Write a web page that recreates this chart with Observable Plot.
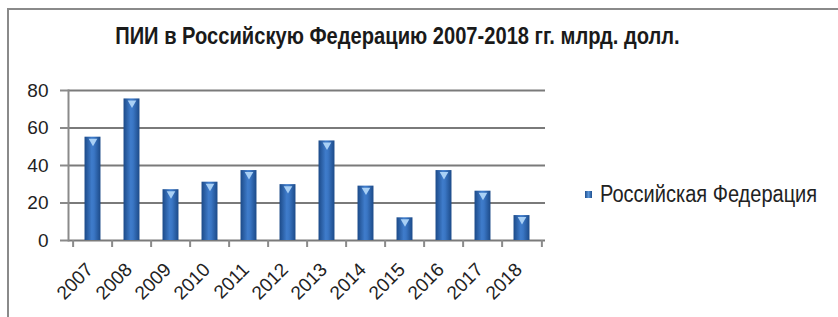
<!DOCTYPE html>
<html>
<head>
<meta charset="utf-8">
<script src="https://cdn.jsdelivr.net/npm/d3@7"></script>
<script src="https://cdn.jsdelivr.net/npm/@observablehq/plot@0.6"></script>
<style>
  html, body { margin: 0; padding: 0; background: #fff; }
  #wrap { position: relative; width: 838px; height: 317px; overflow: hidden; background: #fff; }
  #frame { position: absolute; left: 7px; top: 8px; width: 840px; height: 320px;
           border-top: 2px solid #8a8a8a; border-left: 2px solid #8a8a8a; box-sizing: border-box; }
  #title { position: absolute; left: 0; width: 795px; top: 23px; text-align: center;
           font-family: "Liberation Sans", Arial, sans-serif;
           font-weight: bold; font-size: 23px; color: #1a1a1a;
           transform: scaleX(0.875); transform-origin: 397px 0; white-space: nowrap; }
  #legend { position: absolute; left: 585px; top: 181px; display: flex; align-items: center;
            font-family: "Liberation Sans", Arial, sans-serif;
            font-size: 23px; color: #222; white-space: nowrap; }
  #legend .sw { width: 7px; height: 7px; margin-right: 8px; flex: none;
                background: linear-gradient(90deg, #1f4f8f, #5a95d8, #1f4f8f); }
  #legend span { display: inline-block; transform: scaleX(0.87); transform-origin: 0 50%; }
  #chart { position: absolute; left: 0; top: 0; }
</style>
</head>
<body>
<div id="wrap">
  <div id="frame"></div>
  <div id="chart"></div>
  <div id="title"></div>
  <div id="legend"><div class="sw"></div><span id="legtext"></span></div>
</div>
<script>
const titleText = "ПИИ в Российскую Федерацию 2007-2018 гг. млрд. долл.";
const seriesName = "Российская Федерация";
const years = ["2007","2008","2009","2010","2011","2012","2013","2014","2015","2016","2017","2018"];
const values = [55.1, 75.5, 27.1, 31.1, 37.3, 29.8, 53.1, 29.0, 12.1, 37.3, 26.3, 13.3];
const yTicks = [0, 20, 40, 60, 80];

document.getElementById("title").textContent = titleText;
document.getElementById("legtext").textContent = seriesName;

const data = years.map((y, i) => ({year: y, value: values[i]}));

const W = 838, H = 317;
const mL = 68, mR = 293, mT = 90, mB = 77;
const step = (W - mL - mR) / years.length;
const inset = step * 0.29;
const font = "Liberation Sans, Arial, sans-serif";

const plot = Plot.plot({
  width: W, height: H,
  marginLeft: mL, marginRight: mR, marginTop: mT, marginBottom: mB,
  style: {fontFamily: font, background: "transparent", overflow: "visible"},
  x: {domain: years, padding: 0, axis: null, label: null},
  y: {domain: [0, 80], axis: null, label: null},
  marks: [
    Plot.gridY(yTicks, {stroke: "#7a7a7a", strokeOpacity: 1, strokeWidth: 2}),
    Plot.frame({anchor: "left", stroke: "#8a8a8a", strokeWidth: 2}),
    Plot.barY(data, {x: "year", y: "value", fill: "url(#barGrad)", insetLeft: inset, insetRight: inset}),
    Plot.dot(data, {x: "year", y: "value", symbol: "triangle", r: 3.2, rotate: 180, dy: 4, fill: "#a9d0f5", stroke: "none"}),
    Plot.axisY(yTicks, {label: null, tickSize: 8, tickPadding: 12, stroke: "#8a8a8a", strokeWidth: 2, fontSize: 19, fill: "#222"}),
    Plot.axisX(years, {label: null, text: null, tickSize: 7, dx: -step / 2, stroke: "#8a8a8a", strokeWidth: 2}),
    Plot.axisX([years[years.length - 1]], {label: null, text: null, tickSize: 7, dx: step / 2, stroke: "#8a8a8a", strokeWidth: 2}),
    Plot.axisX(years, {label: null, tickSize: 0, tickPadding: 26, tickRotate: -45, fontSize: 19, fill: "#222", dx: -3})
  ]
});

const ns = "http://www.w3.org/2000/svg";
const defs = document.createElementNS(ns, "defs");
const grad = document.createElementNS(ns, "linearGradient");
grad.setAttribute("id", "barGrad");
grad.setAttribute("x1", "0"); grad.setAttribute("x2", "1");
grad.setAttribute("y1", "0"); grad.setAttribute("y2", "0");
[["0%", "#1c4a88"], ["45%", "#3f7ccb"], ["60%", "#3a76c4"], ["100%", "#1c4a88"]].forEach(([o, c]) => {
  const s = document.createElementNS(ns, "stop");
  s.setAttribute("offset", o); s.setAttribute("stop-color", c);
  grad.appendChild(s);
});
defs.appendChild(grad);
plot.insertBefore(defs, plot.firstChild);

document.getElementById("chart").appendChild(plot);
</script>
</body>
</html>
